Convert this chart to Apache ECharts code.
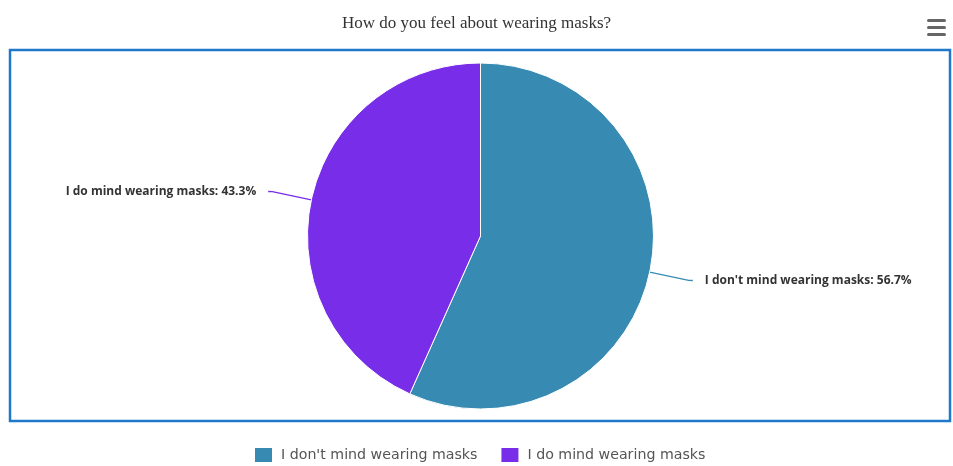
<!DOCTYPE html>
<html>
<head>
<meta charset="utf-8">
<script src="https://cdn.jsdelivr.net/npm/echarts@6/dist/echarts.min.js"></script>
<style>
html,body{margin:0;padding:0;background:#fff;}
#main{width:953px;height:466px;}
</style>
</head>
<body>
<div id="main"></div>
<script>
var titleText = "How do you feel about wearing masks?";
var categories = ["I don't mind wearing masks", "I do mind wearing masks"];
var values = [56.7, 43.3];
var colors = ["#378bb3", "#782de8"];

var chart = echarts.init(document.getElementById('main'));
var data = categories.map(function (c, i) {
  return { name: c, value: values[i], itemStyle: { color: colors[i] } };
});
chart.setOption({
  animation: false,
  title: {
    text: titleText,
    left: 'center',
    top: 10,
    textStyle: { fontFamily: 'Liberation Serif', fontSize: 17, fontWeight: 'normal', color: '#333' }
  },
  legend: {
    top: 441,
    left: 248,
    itemWidth: 19,
    itemHeight: 16,
    itemGap: 22,
    icon: 'rect',
    textStyle: { fontFamily: 'DejaVu Sans', fontSize: 14.2, color: '#555', padding: [0, 0, 0, 3] },
    data: categories
  },
  graphic: [
    { type: 'rect', shape: { x: 10, y: 50, width: 940, height: 371 }, style: { fill: 'none', stroke: '#1f78c9', lineWidth: 2.5 }, z: -1 },
    { type: 'rect', shape: { x: 927, y: 19, width: 19, height: 3, r: 1.5 }, style: { fill: '#666' } },
    { type: 'rect', shape: { x: 927, y: 26, width: 19, height: 3, r: 1.5 }, style: { fill: '#666' } },
    { type: 'rect', shape: { x: 927, y: 33, width: 19, height: 3, r: 1.5 }, style: { fill: '#666' } }
  ],
  series: [{
    type: 'pie',
    center: [480.5, 236],
    radius: 173,
    startAngle: 90,
    clockwise: true,
    data: data,
    itemStyle: { borderColor: '#fff', borderWidth: 1 },
    emphasis: { disabled: true },
    label: {
      show: true,
      position: 'outside',
      fontFamily: 'Open Sans',
      fontWeight: 'bold',
      fontSize: 12,
      color: '#333',
      distanceToLabelLine: 12,
      formatter: function (p) { return p.name + ': ' + p.value.toFixed(1) + '%'; }
    },
    labelLine: {
      show: true,
      length: 40,
      length2: 4,
      smooth: 0.3,
      lineStyle: { width: 1.3 }
    }
  }]
});
</script>
</body>
</html>
